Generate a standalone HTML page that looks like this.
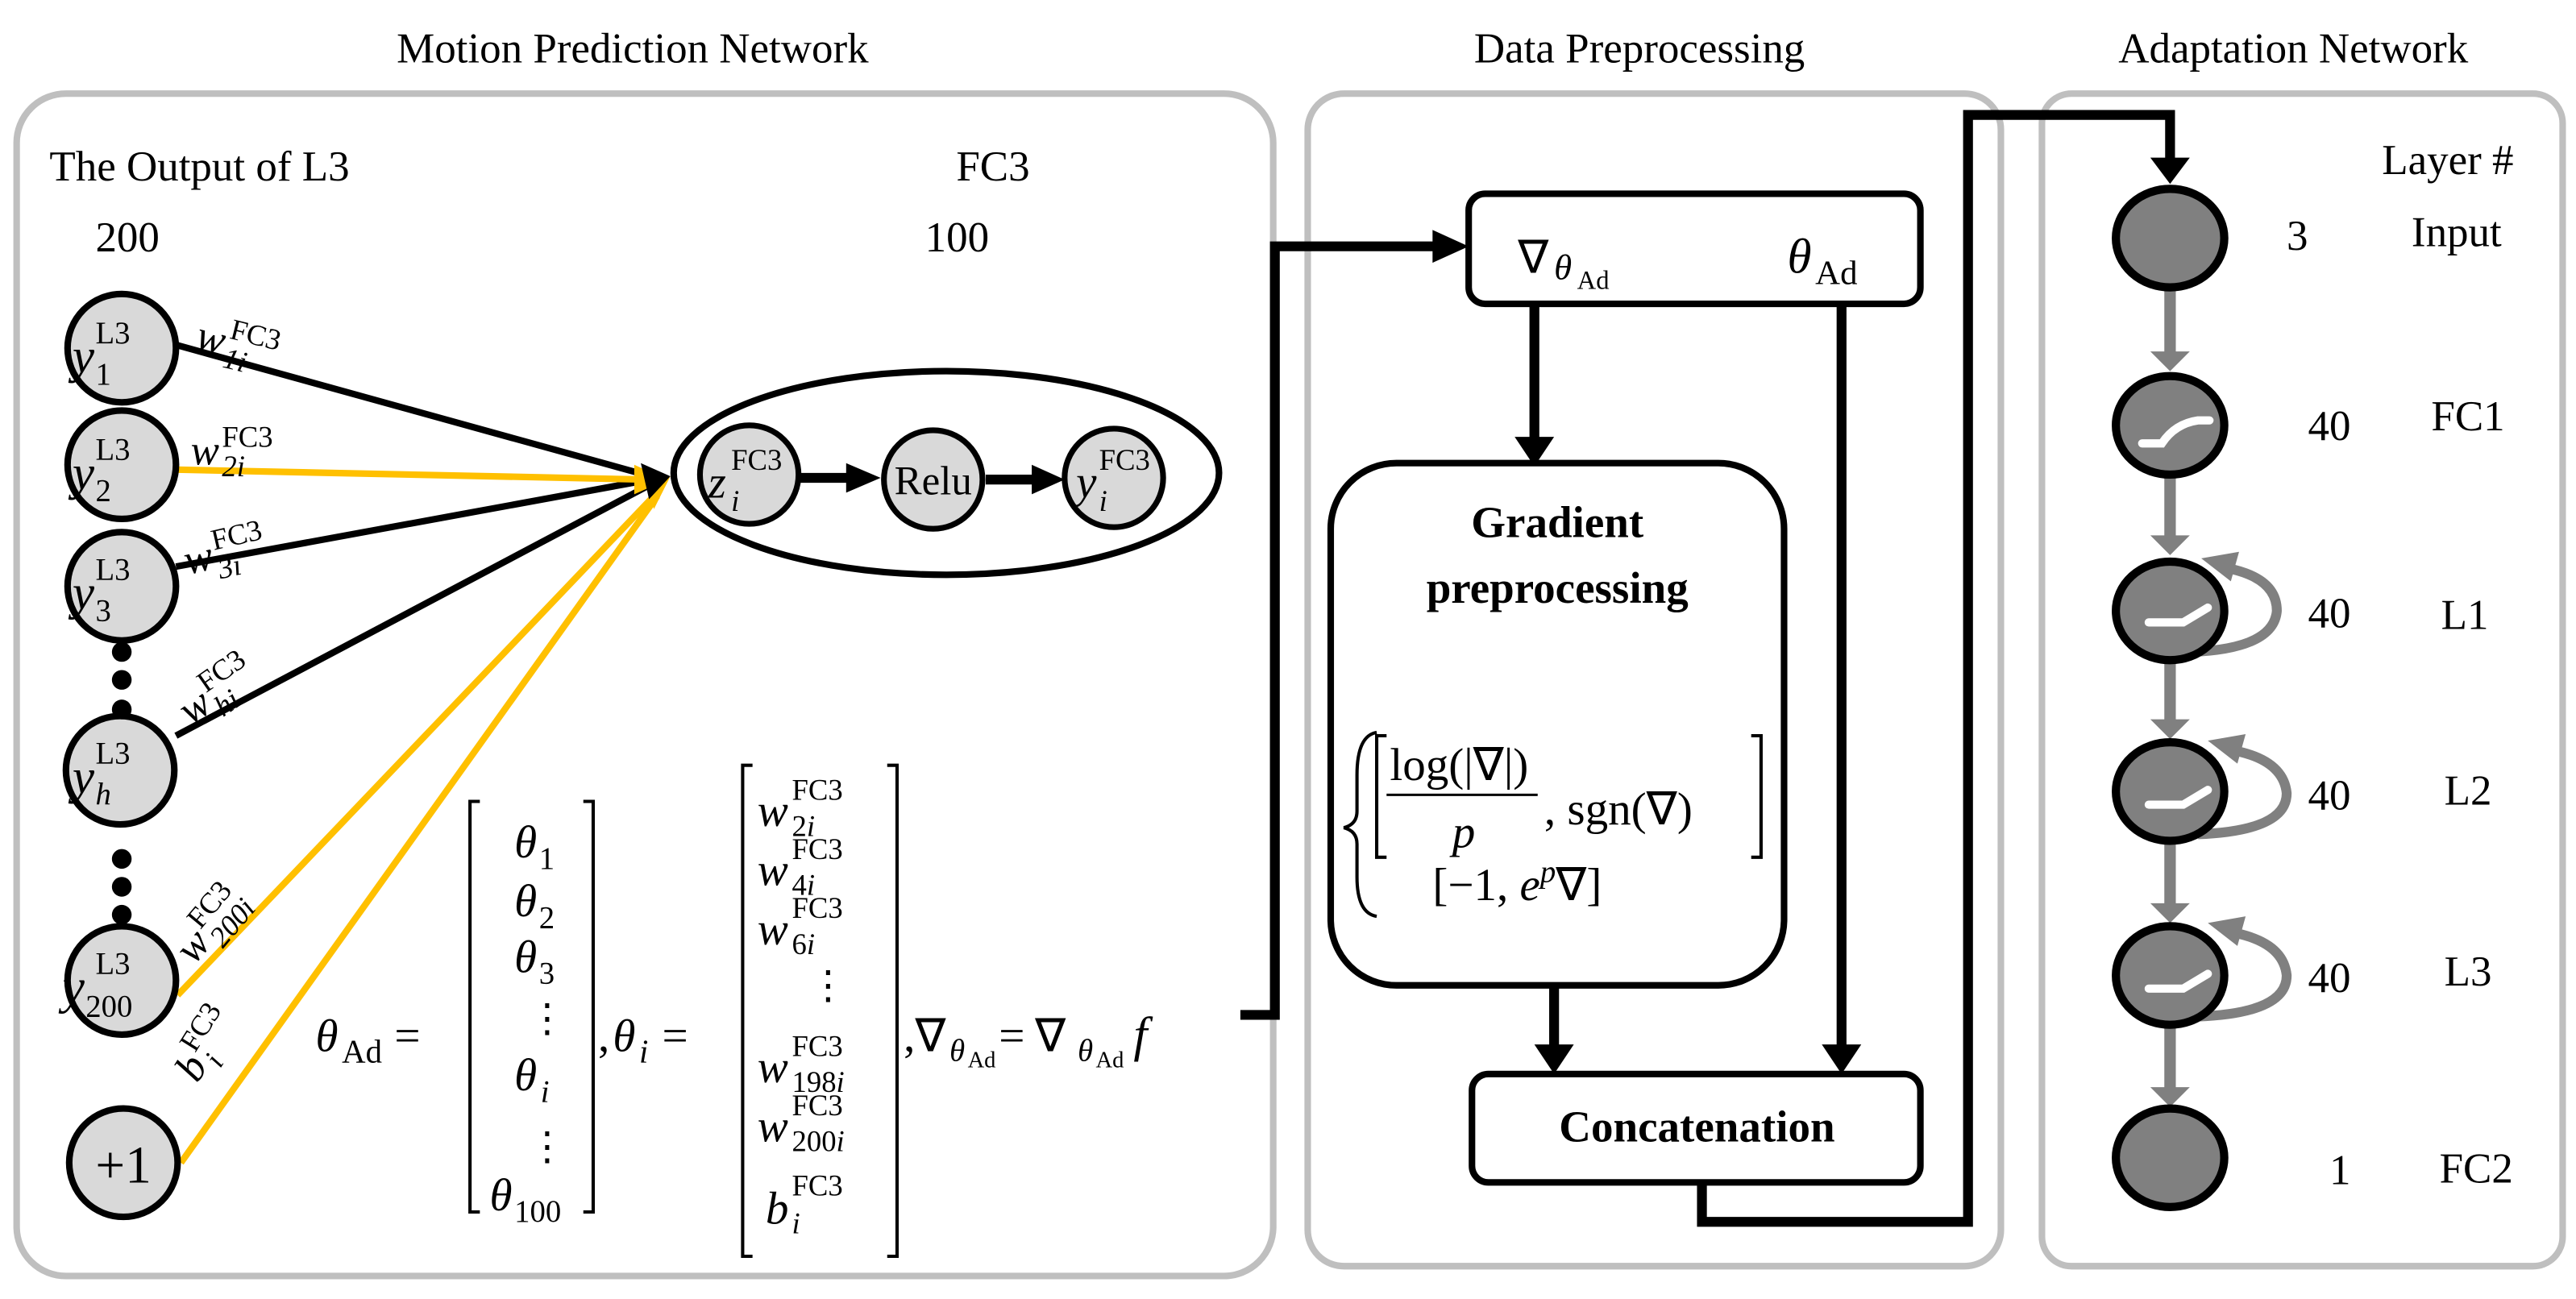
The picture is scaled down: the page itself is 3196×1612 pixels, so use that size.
<!DOCTYPE html>
<html><head><meta charset="utf-8"><style>
html,body{margin:0;padding:0;background:#fff}
svg{display:block}
text{font-family:"Liberation Serif",serif;fill:#000}
.i{font-style:italic}
</style></head><body>
<svg width="3196" height="1612" viewBox="0 0 1568 791" xmlns="http://www.w3.org/2000/svg">
<text x="385" y="38" font-size="26" text-anchor="middle">Motion Prediction Network</text>
<text x="998" y="38" font-size="26" text-anchor="middle">Data Preprocessing</text>
<text x="1396" y="38" font-size="26" text-anchor="middle">Adaptation Network</text>
<rect x="10" y="57" width="765" height="720" rx="30" fill="none" stroke="#bfbfbf" stroke-width="4"/>
<rect x="796" y="57" width="422" height="714" rx="22" fill="none" stroke="#bfbfbf" stroke-width="4"/>
<rect x="1243" y="57" width="317" height="714" rx="18" fill="none" stroke="#bfbfbf" stroke-width="4"/>

<text x="30" y="110" font-size="26">The Output of L3</text>
<text x="58" y="153" font-size="26">200</text>
<text x="582" y="110" font-size="26">FC3</text>
<text x="563" y="153" font-size="26">100</text>

<g stroke-width="4" fill="none">
<line x1="107" y1="210" x2="396" y2="290" stroke="#000"/>
<line x1="107" y1="345" x2="396" y2="292" stroke="#000"/>
<line x1="107" y1="448" x2="396" y2="295" stroke="#000"/>
<line x1="108" y1="286" x2="392" y2="292" stroke="#FFC000"/>
<line x1="108" y1="606" x2="398" y2="302" stroke="#FFC000"/>
<line x1="110" y1="708" x2="400" y2="302" stroke="#FFC000"/>
</g>
<path d="M386,283 L406,292 L386,301 z" fill="#FFC000"/>
<path d="M392,290 L408,290 L398,310 z" fill="#FFC000"/>
<path d="M390,282 L408,290 L395,304 z" fill="#000"/>
<g fill="#d9d9d9" stroke="#000" stroke-width="4">
<circle cx="74" cy="212" r="33"/><circle cx="74" cy="283" r="33"/><circle cx="74" cy="357" r="33"/>
<circle cx="73" cy="469" r="33"/><circle cx="74" cy="597" r="33"/><circle cx="75" cy="708" r="33"/>
</g>
<g fill="#000"><circle cx="74" cy="397" r="6"/><circle cx="74" cy="414" r="6"/><circle cx="74" cy="432" r="6"/>
<circle cx="74" cy="523" r="6"/><circle cx="74" cy="540" r="6"/><circle cx="74" cy="557" r="6"/></g>
<g>
<text x="44" y="227" font-size="30" class="i">y</text><text x="58" y="209" font-size="19">L3</text><text x="58" y="234" font-size="19">1</text>
<text x="44" y="298" font-size="30" class="i">y</text><text x="58" y="280" font-size="19">L3</text><text x="58" y="305" font-size="19">2</text>
<text x="44" y="371" font-size="30" class="i">y</text><text x="58" y="353" font-size="19">L3</text><text x="58" y="378" font-size="19">3</text>
<text x="44" y="483" font-size="30" class="i">y</text><text x="58" y="465" font-size="19">L3</text><text x="58" y="490" font-size="19" class="i">h</text>
<text x="38" y="611" font-size="30" class="i">y</text><text x="58" y="593" font-size="19">L3</text><text x="52" y="619" font-size="19">200</text>
<text x="75" y="720" font-size="32" text-anchor="middle">+1</text>
</g>
<g transform="translate(118,212) rotate(14)"><text x="0" y="0" font-size="26" class="i">w</text><text x="19" y="-11" font-size="18">FC3</text><text x="19" y="7" font-size="18" class="i">1i</text></g>
<g transform="translate(116,283)"><text x="0" y="0" font-size="26" class="i">w</text><text x="19" y="-11" font-size="18">FC3</text><text x="19" y="7" font-size="18" class="i">2i</text></g>
<g transform="translate(114,350) rotate(-13)"><text x="0" y="0" font-size="26" class="i">w</text><text x="19" y="-11" font-size="18">FC3</text><text x="19" y="7" font-size="18" class="i">3i</text></g>
<g transform="translate(116,442) rotate(-35)"><text x="0" y="0" font-size="26" class="i">w</text><text x="19" y="-11" font-size="18">FC3</text><text x="19" y="7" font-size="18" class="i">hi</text></g>
<g transform="translate(118,588) rotate(-50)"><text x="0" y="0" font-size="26" class="i">w</text><text x="19" y="-11" font-size="18">FC3</text><text x="19" y="7" font-size="18" class="i">200i</text></g>
<g transform="translate(120,660) rotate(-58)"><text x="0" y="0" font-size="26" class="i">b</text><text x="15" y="-11" font-size="18">FC3</text><text x="15" y="7" font-size="18" class="i">i</text></g>
<ellipse cx="576" cy="288" rx="166" ry="62" fill="none" stroke="#000" stroke-width="4"/>
<g fill="#d9d9d9" stroke="#000" stroke-width="3.5">
<circle cx="456" cy="289" r="30"/><circle cx="568" cy="292" r="30"/><circle cx="678" cy="291" r="30"/>
</g>
<g stroke="#000" stroke-width="6" fill="none">
<line x1="487" y1="291" x2="520" y2="291"/><line x1="600" y1="292" x2="635" y2="292"/>
</g>
<path d="M515,282 L536,291 L515,300 z M628,283 L648,292 L628,301 z" fill="#000"/>
<text x="431" y="303" font-size="28" class="i">z</text><text x="445" y="286" font-size="18">FC3</text><text x="445" y="311" font-size="18" class="i">i</text>
<text x="568" y="301" font-size="25" text-anchor="middle">Relu</text>
<text x="655" y="303" font-size="28" class="i">y</text><text x="669" y="286" font-size="18">FC3</text><text x="669" y="311" font-size="18" class="i">i</text>

<text x="192" y="640" font-size="28" class="i">θ</text><text x="208" y="647" font-size="20">Ad</text><text x="240" y="640" font-size="28">=</text>
<g stroke="#000" stroke-width="2" fill="none">
<path d="M292,488 L286,488 L286,738 L292,738"/>
<path d="M355,488 L361,488 L361,738 L355,738"/>
<path d="M458,466 L452,466 L452,765 L458,765"/>
<path d="M540,466 L546,466 L546,765 L540,765"/>
</g>
<g font-size="28">
<text x="313" y="522" class="i">θ</text><text x="328" y="529" font-size="19">1</text>
<text x="313" y="558" class="i">θ</text><text x="328" y="565" font-size="19">2</text>
<text x="313" y="592" class="i">θ</text><text x="328" y="599" font-size="19">3</text>
<text x="321" y="628" font-size="24">⋮</text>
<text x="313" y="664" class="i">θ</text><text x="329" y="671" font-size="19" class="i">i</text>
<text x="321" y="706" font-size="24">⋮</text>
<text x="298" y="737" class="i">θ</text><text x="313" y="744" font-size="19">100</text>
</g>
<text x="364" y="640" font-size="28">,</text><text x="373" y="640" font-size="28" class="i">θ</text><text x="389" y="647" font-size="20" class="i">i</text><text x="403" y="640" font-size="28">=</text>
<g>
<text x="461" y="503" font-size="28" class="i">w</text><text x="482" y="487" font-size="18">FC3</text><text x="482" y="509" font-size="18">2<tspan class="i">i</tspan></text>
<text x="461" y="539" font-size="28" class="i">w</text><text x="482" y="523" font-size="18">FC3</text><text x="482" y="545" font-size="18">4<tspan class="i">i</tspan></text>
<text x="461" y="575" font-size="28" class="i">w</text><text x="482" y="559" font-size="18">FC3</text><text x="482" y="581" font-size="18">6<tspan class="i">i</tspan></text>
<text x="492" y="608" font-size="24">⋮</text>
<text x="461" y="659" font-size="28" class="i">w</text><text x="482" y="643" font-size="18">FC3</text><text x="482" y="665" font-size="18">198<tspan class="i">i</tspan></text>
<text x="461" y="695" font-size="28" class="i">w</text><text x="482" y="679" font-size="18">FC3</text><text x="482" y="701" font-size="18">200<tspan class="i">i</tspan></text>
<text x="466" y="745" font-size="28" class="i">b</text><text x="482" y="728" font-size="18">FC3</text><text x="482" y="751" font-size="18" class="i">i</text>
</g>
<text x="550" y="640" font-size="28">,∇</text><text x="578" y="646" font-size="19" class="i">θ</text><text x="589" y="650" font-size="14">Ad</text>
<text x="608" y="640" font-size="28">=</text><text x="630" y="640" font-size="28">∇</text><text x="656" y="646" font-size="19" class="i">θ</text><text x="667" y="650" font-size="14">Ad</text><text x="690" y="640" font-size="30" class="i">f</text>

<polyline points="755,618 776,618 776,150 880,150" fill="none" stroke="#000" stroke-width="6"/>
<path d="M872,140 L894,150 L872,160 z" fill="#000"/>

<rect x="894" y="118" width="275" height="67" rx="10" fill="#fff" stroke="#000" stroke-width="4"/>
<text x="924" y="166" font-size="28">∇</text><text x="946" y="170" font-size="22" class="i">θ</text><text x="960" y="176" font-size="16">Ad</text>
<text x="1088" y="166" font-size="30" class="i">θ</text><text x="1105" y="173" font-size="21">Ad</text>
<line x1="934" y1="185" x2="934" y2="270" stroke="#000" stroke-width="6"/>
<path d="M922,266 L946,266 L934,284 z" fill="#000"/>
<line x1="1121" y1="185" x2="1121" y2="640" stroke="#000" stroke-width="6"/>
<path d="M1109,636 L1133,636 L1121,654 z" fill="#000"/>
<rect x="810" y="282" width="276" height="318" rx="40" fill="#fff" stroke="#000" stroke-width="4"/>
<text x="948" y="327" font-size="27" font-weight="bold" text-anchor="middle">Gradient</text>
<text x="948" y="367" font-size="27" font-weight="bold" text-anchor="middle">preprocessing</text>
<path d="M838,446 Q826,448 826,472 L826,494 Q826,502 818,504 Q826,506 826,514 L826,534 Q826,556 838,558" fill="none" stroke="#000" stroke-width="2"/>
<path d="M844,448 L838,448 L838,522 L844,522 M1066,448 L1072,448 L1072,522 L1066,522" fill="none" stroke="#000" stroke-width="2"/>
<text x="846" y="475" font-size="28">log(|∇|)</text>
<line x1="844" y1="484" x2="936" y2="484" stroke="#000" stroke-width="1.5"/>
<text x="884" y="516" font-size="28" class="i">p</text>
<text x="940" y="502" font-size="28">, sgn(∇)</text>
<text x="872" y="548" font-size="28">[−1, <tspan class="i">e</tspan><tspan font-size="19" dy="-11" class="i">p</tspan><tspan dy="11">∇]</tspan></text>
<line x1="946" y1="600" x2="946" y2="640" stroke="#000" stroke-width="6"/>
<path d="M934,636 L958,636 L946,654 z" fill="#000"/>
<rect x="896" y="654" width="273" height="66" rx="10" fill="#fff" stroke="#000" stroke-width="4"/>
<text x="1033" y="695" font-size="27" font-weight="bold" text-anchor="middle">Concatenation</text>
<polyline points="1036,720 1036,744 1198,744 1198,70 1321,70 1321,98" fill="none" stroke="#000" stroke-width="6"/>
<path d="M1309,96 L1333,96 L1321,112 z" fill="#000"/>

<g stroke="#808080" stroke-width="7" fill="none">
<line x1="1321" y1="176" x2="1321" y2="216"/>
<line x1="1321" y1="288" x2="1321" y2="328"/>
<line x1="1321" y1="402" x2="1321" y2="440"/>
<line x1="1321" y1="512" x2="1321" y2="552"/>
<line x1="1321" y1="624" x2="1321" y2="664"/>
</g>
<g fill="#808080">
<path d="M1309,214 L1333,214 L1321,226 z"/><path d="M1309,326 L1333,326 L1321,338 z"/>
<path d="M1309,438 L1333,438 L1321,450 z"/><path d="M1309,550 L1333,550 L1321,562 z"/>
<path d="M1309,662 L1333,662 L1321,674 z"/>
</g>
<g stroke="#808080" stroke-width="6" fill="none">
<path d="M1334,397 Q1384,395 1386,372 Q1386,352 1356,346"/>
<path d="M1338,508 Q1392,506 1392,483 Q1390,463 1360,457"/>
<path d="M1338,619 Q1392,617 1392,594 Q1390,574 1360,568"/>
</g>
<g fill="#808080">
<path d="M1340,340 L1363,336 L1358,354 z"/><path d="M1344,451 L1367,447 L1362,465 z"/><path d="M1344,562 L1367,558 L1362,576 z"/>
</g>
<g fill="#808080" stroke="#000" stroke-width="5">
<ellipse cx="1321" cy="145" rx="33" ry="30"/>
<ellipse cx="1321" cy="259" rx="33" ry="30"/>
<ellipse cx="1321" cy="372" rx="33" ry="30"/>
<ellipse cx="1321" cy="482" rx="33" ry="30"/>
<ellipse cx="1321" cy="594" rx="33" ry="30"/>
<ellipse cx="1321" cy="705" rx="33" ry="30"/>
</g>
<g stroke="#fff" stroke-width="5" fill="none" stroke-linecap="round">
<path d="M1304,270 L1316,270 Q1324,258 1338,256 L1345,256"/>
<path d="M1308,379 L1329,379 L1344,370"/>
<path d="M1308,490 L1329,490 L1344,481"/>
<path d="M1308,602 L1329,602 L1344,593"/>
</g>
<g font-size="26">
<text x="1450" y="106">Layer #</text>
<text x="1392" y="152">3</text><text x="1468" y="150">Input</text>
<text x="1405" y="268">40</text><text x="1480" y="262">FC1</text>
<text x="1405" y="382">40</text><text x="1486" y="383">L1</text>
<text x="1405" y="493">40</text><text x="1488" y="490">L2</text>
<text x="1405" y="604">40</text><text x="1488" y="600">L3</text>
<text x="1418" y="721">1</text><text x="1485" y="720">FC2</text>
</g>
</svg>
</body></html>
